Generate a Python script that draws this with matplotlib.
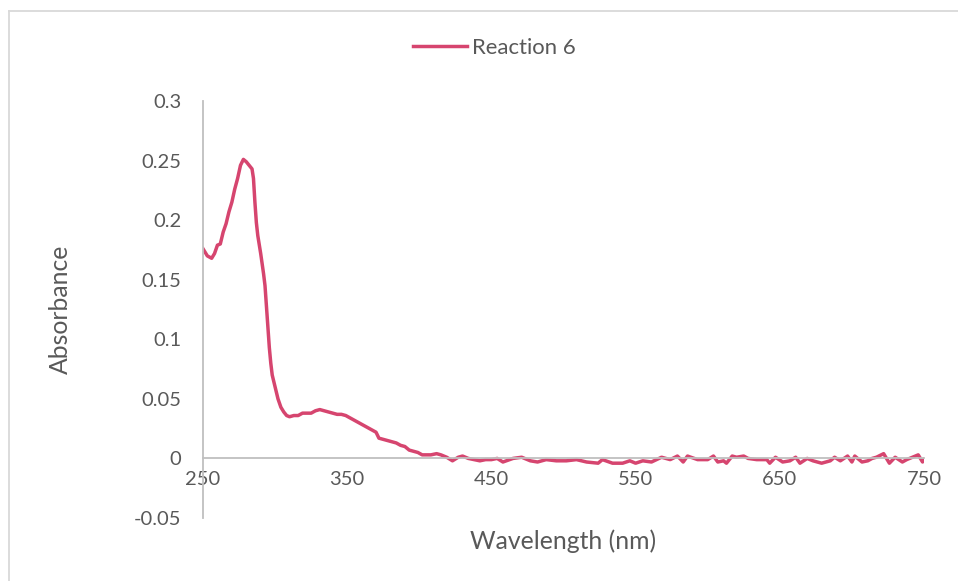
import matplotlib
matplotlib.use("Agg")
import matplotlib.pyplot as plt
from matplotlib.lines import Line2D

wavelength = [250, 253, 256, 258, 260, 262, 264, 266, 268, 270, 272, 274, 276, 278, 280,
              282, 284, 285, 286, 287, 288, 290, 292, 293, 294, 295, 296, 297, 298, 300,
              302, 304, 306, 308, 310, 313, 316, 319, 322, 325, 328, 331, 334, 337, 340,
              343, 346, 349, 352, 355, 358, 361, 364, 367, 370, 372, 375, 378, 381, 384,
              387, 390, 393, 396, 399, 402, 405, 408, 412, 415, 419, 423, 427, 430, 434,
              438, 442, 446, 450, 454, 458, 465, 471, 477, 482, 488, 495, 502, 509, 516,
              524, 527, 534, 541, 546, 550, 555, 561, 568, 574, 579, 583, 586, 593, 600,
              604, 607, 611, 613, 617, 620, 625, 628, 634, 641, 643, 647, 652, 657, 661,
              664, 669, 673, 679, 685, 688, 692, 697, 700, 702, 707, 711, 714, 717, 722,
              726, 730, 735, 738, 742, 746, 749, 750]
absorbance = [0.176, 0.170, 0.168, 0.172, 0.179, 0.180, 0.190, 0.197, 0.207, 0.215, 0.226, 0.235, 0.246, 0.251, 0.249,
              0.246, 0.243, 0.235, 0.215, 0.198, 0.187, 0.172, 0.155, 0.145, 0.128, 0.110, 0.093, 0.080, 0.070, 0.060,
              0.050, 0.043, 0.039, 0.036, 0.035, 0.036, 0.036, 0.038, 0.038, 0.038, 0.040, 0.041, 0.040, 0.039, 0.038,
              0.037, 0.037, 0.036, 0.034, 0.032, 0.030, 0.028, 0.026, 0.024, 0.022, 0.017, 0.016, 0.015, 0.014, 0.013,
              0.011, 0.010, 0.007, 0.006, 0.005, 0.003, 0.003, 0.003, 0.004, 0.003, 0.001, -0.002, 0.001, 0.002, 0.000,
              -0.001, -0.002, -0.001, -0.001, 0.000, -0.003, 0.000, 0.001, -0.002, -0.003, -0.001, -0.002, -0.002, -0.001, -0.003,
              -0.004, -0.001, -0.004, -0.004, -0.002, -0.004, -0.002, -0.003, 0.001, -0.001, 0.002, -0.003, 0.002, -0.001, -0.001,
              0.002, -0.003, -0.002, -0.004, 0.002, 0.001, 0.002, 0.000, -0.001, -0.001, -0.004, 0.001, -0.003, -0.002, 0.001,
              -0.004, 0.000, -0.002, -0.004, -0.002, 0.001, -0.002, 0.002, -0.003, 0.002, -0.003, -0.002, 0.000, 0.001, 0.004,
              -0.004, 0.001, -0.003, -0.001, 0.001, 0.003, -0.003, -0.001]

series_name = "Reaction 6"
x_ticks = [250, 350, 450, 550, 650, 750]
y_ticks = [-0.05, 0, 0.05, 0.1, 0.15, 0.2, 0.25, 0.3]
y_tick_labels = ["-0.05", "0", "0.05", "0.1", "0.15", "0.2", "0.25", "0.3"]

plt.rcParams['font.family'] = ['Lato', 'DejaVu Sans']
text_color = "#595959"
grid_color = "#bfbfbf"
line_color = "#D6456F"

fig = plt.figure(figsize=(9.58, 5.81), dpi=100)
ax = fig.add_axes([203/958, 1 - 518/581, (924 - 203)/958, (518 - 101)/581])

ax.plot(wavelength, absorbance, color=line_color, lw=2.5, solid_joinstyle='round')

ax.set_xlim(250, 750)
ax.set_ylim(-0.05, 0.3)
ax.set_xticks(x_ticks)
ax.set_xticklabels([str(t) for t in x_ticks])
ax.set_yticks(y_ticks)
ax.set_yticklabels(y_tick_labels)

for s in ['top', 'right']:
    ax.spines[s].set_visible(False)
ax.spines['bottom'].set_position(('data', 0))
ax.spines['bottom'].set_color(grid_color)
ax.spines['left'].set_color(grid_color)
ax.spines['bottom'].set_linewidth(1.3)
ax.spines['left'].set_linewidth(1.3)
ax.tick_params(axis='x', length=0, pad=9, labelsize=14.5, colors=text_color)
ax.tick_params(axis='y', length=0, pad=15.5, labelsize=14.5, colors=text_color)

ax.set_xlabel("Wavelength (nm)", fontsize=17.8, color=text_color)
ax.xaxis.set_label_coords(0.5, -0.028)
ax.set_ylabel("Absorbance", fontsize=17.8, color=text_color)
ax.yaxis.set_label_coords(-0.182, 0.5)

handle = Line2D([0], [0], color=line_color, lw=2.5)
fig.legend([handle], [series_name], loc='center', bbox_to_anchor=(494/958, 1 - 48/581),
           frameon=False, fontsize=15.9, labelcolor=text_color, handlelength=2.45,
           handletextpad=0.23)

# chart-area border (top and left visible)
fig.add_artist(Line2D([9/958, 1], [1 - 11/581, 1 - 11/581], color="#d9d9d9", lw=1.3,
                      transform=fig.transFigure))
fig.add_artist(Line2D([9/958, 9/958], [0, 1 - 11/581], color="#d9d9d9", lw=1.3,
                      transform=fig.transFigure))

fig.savefig("out.png", dpi=100, facecolor="white")
